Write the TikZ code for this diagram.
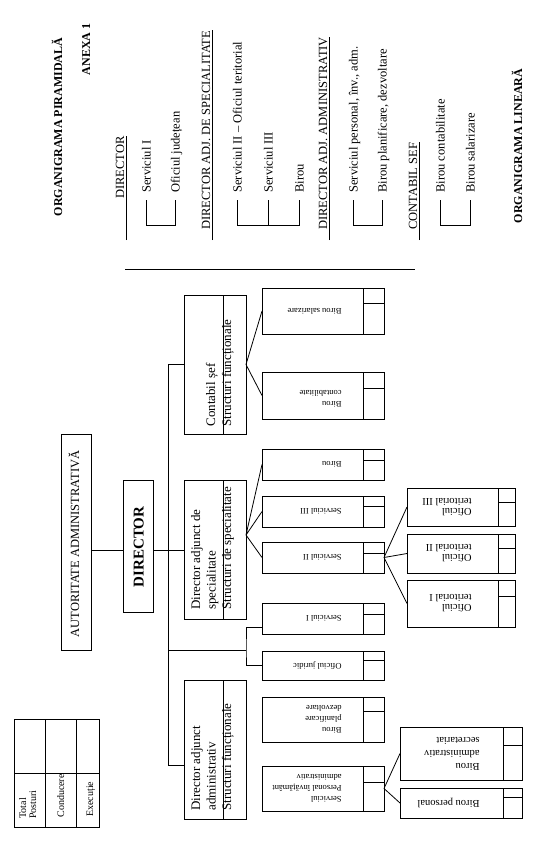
\documentclass[tikz,border=0pt]{standalone}
\usepackage{fontspec}
\setmainfont{Liberation Serif}
\newcommand\mkbox[5]{%
 \node[draw,inner sep=0pt,outer sep=0pt,anchor=north west,minimum width={(#4-#2)*1pt},minimum height={(#5-#3)*1pt}] (#1) at (#2,#3) {};}
\newcommand\lvtwo[4]{%
 \mkbox{#1}{262}{#2}{384}{#3}
 \draw (363,#2) -- (363,#3) (363,#4) -- (384,#4);}
\newcommand\lvthree[7]{%
 \mkbox{#1}{#2}{#5}{#3}{#6}
 \draw (#4,#5) -- (#4,#6) (#4,#7) -- (#3,#7);}
\begin{document}
\begin{tikzpicture}[x=1pt,y=-1pt,line width=0.8pt,
 rt/.style={rotate=90,inner sep=0pt,anchor=base west,font=\fontsize{12.5}{15}\selectfont},
 ttl/.style={rotate=90,inner sep=0pt,anchor=base,font=\bfseries\fontsize{12}{14}\selectfont},
 bt/.style={rotate=90,inner sep=0pt,anchor=base west,font=\fontsize{13}{15}\selectfont},
 lt/.style={rotate=180,inner sep=0pt,anchor=west,align=left,font=\fontsize{8.5}{11}\selectfont},
 ltt/.style={rotate=180,inner sep=0pt,anchor=west,align=left,font=\fontsize{10.5}{10}\selectfont},
 ltb/.style={rotate=180,inner sep=0pt,anchor=west,align=left,font=\fontsize{10.5}{13}\selectfont},
 gt/.style={rotate=90,inner sep=0pt,anchor=base west,font=\fontsize{10}{10}\selectfont}]
\fill[white] (0,0) rectangle (558,844);
\useasboundingbox (0,0) rectangle (558,844);

% ---------- pyramid list (top) ----------
\node[ttl] (t1) at (62,127) {ORGANIGRAMA PIRAMIDALĂ};
\node[ttl,anchor=base east] (t2) at (90,23) {ANEXA 1};

\node[rt] (h1) at (124,199) {DIRECTOR};
\coordinate (u1) at (126,240);
\draw (u1) -- (u1 |- h1.east);
\node[rt] (i1) at (150.5,193) {Serviciul I};
\node[rt] (i2) at (179.5,193) {Oficiul județean};
\draw (146,200) -- (146,225) -- (175,225) -- (175,200);

\node[rt] (h2) at (210,230) {DIRECTOR ADJ. DE SPECIALITATE};
\coordinate (u2) at (212,240);
\draw (u2) -- (u2 |- h2.east);
\node[rt] (i3) at (241.5,193) {Serviciul II – Oficiul teritorial};
\node[rt] (i4) at (272.5,193) {Serviciul III};
\node[rt] (i5) at (303.5,193) {Birou};
\draw (237,200) -- (237,225) -- (299,225) -- (299,200) (268,200) -- (268,225);

\node[rt] (h3) at (327,230) {DIRECTOR ADJ. ADMINISTRATIV};
\coordinate (u3) at (329,240);
\draw (u3) -- (u3 |- h3.east);
\node[rt] (i6) at (357.5,193) {Serviciul personal, înv., adm.};
\node[rt] (i7) at (386.5,193) {Birou planificare, dezvoltare};
\draw (353,200) -- (353,225) -- (382,225) -- (382,200);

\node[rt] (h4) at (417,230) {CONTABIL SEF};
\coordinate (u4) at (419,240);
\draw (u4) -- (u4 |- h4.east);
\node[rt] (i8) at (444.5,193) {Birou contabilitate};
\node[rt] (i9) at (474.5,193) {Birou salarizare};
\draw (440,200) -- (440,225) -- (470,225) -- (470,200);

\node[ttl] (t3) at (522,146) {ORGANIGRAMA LINEARĂ};
\draw (125,269) -- (415,269);

% ---------- main chart ----------
\mkbox{aut}{61}{434}{91}{650}
\node[rotate=90,inner sep=0pt,anchor=base,font=\fontsize{12.5}{15}\selectfont] (autT) at (79,544) {AUTORITATE ADMINISTRATIVĂ};
\mkbox{dir}{123}{480}{153}{612}
\node[rotate=90,inner sep=0pt,anchor=base,font=\bfseries\fontsize{15}{18}\selectfont] (dirT) at (143.5,547) {DIRECTOR};

% level 1
\mkbox{cs}{184}{295}{246}{434}
\draw (223,295) -- (223,434);
\node[bt] (cs1) at (215,427) {Contabil șef};
\node[bt] (cs2) at (231,427) {Structuri funcționale};

\mkbox{das}{184}{480}{246}{619}
\draw (223,480) -- (223,619);
\node[bt] (das1) at (200,610) {Director adjunct de};
\node[bt] (das2) at (215.5,610) {specialitate};
\node[bt] (das3) at (231,610) {Structuri de specialitate};

\mkbox{daa}{184}{680}{246}{819}
\draw (223,680) -- (223,819);
\node[bt] (daa1) at (200,811) {Director adjunct};
\node[bt] (daa2) at (215.5,811) {administrativ};
\node[bt] (daa3) at (231,811) {Structuri funcționale};

% level 2
\lvtwo{bsal}{288}{334}{303}
\lvtwo{bcon}{372}{419}{388}
\lvtwo{bir}{449}{480}{460}
\lvtwo{sthree}{496}{527}{506}
\lvtwo{stwo}{542}{573}{553}
\lvtwo{sone}{603}{634}{614}
\lvtwo{oj}{651}{680}{660}
\lvtwo{bpd}{697}{742}{711}
\lvtwo{spa}{766}{811}{782}
\node[lt] (bsalT) at (342,311) {Birou salarizare};
\node[lt] (bconT) at (342,399) {Birou\\contabilitate};
\node[lt] (birT) at (342,464.5) {Birou};
\node[lt] (sthreeT) at (342,511.5) {Serviciul III};
\node[lt] (stwoT) at (342,557.5) {Serviciul II};
\node[lt] (soneT) at (342,618.5) {Serviciul I};
\node[lt] (ojT) at (342,665.5) {Oficiul juridic};
\node[lt] (bpdT) at (342,719.5) {Birou\\planificare\\dezvoltare};
\node[lt] (spaT) at (342,788.5) {Serviciul\\Personal învățământ\\administrativ};

% level 3
\lvthree{othree}{407}{515}{498}{488}{526}{502}
\lvthree{otwo}{407}{515}{498}{534}{573}{548}
\lvthree{oone}{407}{515}{498}{580}{627}{596}
\lvthree{bas}{400}{522}{503}{727}{780}{745}
\lvthree{bp}{400}{522}{503}{788}{818}{797}
\node[ltt] (othreeT) at (472,507) {Oficiul\\teritorial III};
\node[ltt] (otwoT) at (472,553.5) {Oficiul\\teritorial II};
\node[ltt] (ooneT) at (472,603.5) {Oficiul\\teritorial I};
\node[ltb] (basT) at (480,753.5) {Birou\\administrativ\\secretariat};
\node[ltb] (bpT) at (480,803) {Birou personal};

% connectors
\coordinate (c550) at (0,550);
\draw (aut.east |- c550) -- (dir.west |- c550);
\draw (dir.east |- c550) -- (das.west |- c550);
\coordinate (tb) at (168,765);
\draw (cs.west) -| (tb) -- (tb -| daa.west);
\coordinate (t650) at (168,650);
\coordinate (e650) at (246,650);
\coordinate (y627) at (0,627);
\draw (t650) -- (e650);
\draw (sone.west |- y627) -| (e650) |- (oj.west);
\draw (cs.east) -- (bsal.west) (cs.east) -- (bcon.west);
\coordinate (df) at ([yshift=14.5pt]das.east);
\draw (df) -- (bir.west) (df) -- (sthree.west) (df) -- (stwo.west);
\draw (stwo.east) -- (othree.west) (stwo.east) -- (otwo.west) (stwo.east) -- (oone.west);
\draw (spa.east) -- (bas.west) (spa.east) -- (bp.west);

% legend table
\mkbox{leg}{14}{719}{99}{827}
\draw (45,719) -- (45,827) (76,719) -- (76,827) (14,773) -- (99,773);
\node[gt] (g1) at (26,819) {Total};
\node[gt] (g2) at (36,819) {Posturi};
\node[gt] (g3) at (64,818) {Conducere};
\node[gt] (g4) at (93,817) {Execuție};
\end{tikzpicture}
\end{document}
